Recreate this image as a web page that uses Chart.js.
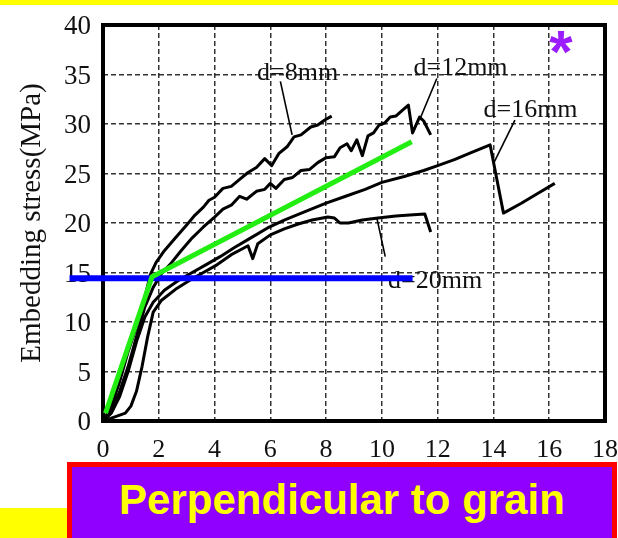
<!DOCTYPE html>
<html><head><meta charset="utf-8">
<script src="https://cdn.jsdelivr.net/npm/chart.js@4.4.1/dist/chart.umd.min.js"></script>
<style>
html,body{margin:0;padding:0;}
body{width:618px;height:538px;position:relative;overflow:hidden;background:#fff;}
#c{position:absolute;left:0;top:0;}
.band{position:absolute;background:#FFFF00;}
#box{position:absolute;left:67px;top:462px;width:550px;height:90px;box-sizing:border-box;border:5px solid #FF0000;background:#8F00FF;}
#boxText{position:absolute;left:67px;top:476px;width:550px;text-align:center;font:bold 42px "Liberation Sans",Arial,sans-serif;color:#FFFF00;line-height:normal;white-space:nowrap;}
</style></head><body>
<div class="band" style="left:0;top:0;width:618px;height:5px"></div>
<div class="band" style="left:0;top:508px;width:67px;height:30px"></div>
<canvas id="c" width="618" height="538"></canvas>
<div id="box"></div>
<div id="boxText">Perpendicular to grain</div>
<script>
// ---- data (x: displacement, y: embedding stress MPa) ----
const xTicks = [0, 2, 4, 6, 8, 10, 12, 14, 16, 18];
const yTicks = [0, 5, 10, 15, 20, 25, 30, 35, 40];
const yTitle = 'Embedding stress(MPa)';

const d8 = [[0,0],[0.3,1.5],[0.6,4],[0.9,7],[1.2,9.5],[1.5,12.5],[1.7,14.8],[1.9,16],[2.2,17.2],[2.6,18.5],[3.0,19.8],[3.3,20.8],[3.6,21.6],[3.8,22.3],[4.0,22.6],[4.3,23.5],[4.6,23.7],[4.9,24.4],[5.2,25.1],[5.5,25.6],[5.8,26.5],[6.05,25.8],[6.3,27.0],[6.6,27.7],[6.85,28.7],[7.1,28.9],[7.45,29.7],[7.7,29.9],[7.95,30.4],[8.2,30.8]];
const d12 = [[0,0],[0.3,1],[0.6,3],[0.9,5.5],[1.2,8.5],[1.5,11.5],[1.8,13.5],[2.1,14.9],[2.4,15.8],[2.8,17.2],[3.2,18.5],[3.6,19.6],[4.0,20.6],[4.3,21.4],[4.6,21.8],[4.9,22.7],[5.15,22.4],[5.5,23.2],[5.8,23.4],[6.0,24.0],[6.2,23.5],[6.5,24.4],[6.8,24.6],[7.1,25.3],[7.4,25.4],[7.7,26.1],[8.0,26.6],[8.3,26.7],[8.5,27.6],[8.75,28.0],[8.9,27.3],[9.1,28.4],[9.3,26.8],[9.5,28.8],[9.7,29.1],[9.9,29.9],[10.1,30.1],[10.3,30.7],[10.5,30.8],[10.7,31.3],[10.95,31.9],[11.1,29.1],[11.35,30.7],[11.5,30.3],[11.75,28.9]];
const d16 = [[0,0],[0.3,0.8],[0.6,2.5],[0.9,5],[1.2,8],[1.5,10.5],[1.8,12],[2.2,13.2],[2.7,14.2],[3.2,15],[3.7,15.8],[4.2,16.6],[4.7,17.5],[5.3,18.5],[5.9,19.5],[6.5,20.3],[7.2,21.1],[8.0,22.0],[8.7,22.7],[9.4,23.4],[10.0,24.1],[10.8,24.7],[11.5,25.3],[12.0,25.8],[12.6,26.4],[13.2,27.1],[13.88,27.9],[14.36,21.0],[15.0,22.0],[15.6,23.0],[16.2,24.0]];
const d20 = [[0,0],[0.4,0.4],[0.8,0.8],[1.0,1.5],[1.2,3],[1.4,5.5],[1.6,8.5],[1.8,11],[2.1,12.2],[2.6,13.3],[3.1,14.2],[3.6,15.0],[4.1,15.8],[4.6,16.8],[5.0,17.4],[5.2,17.7],[5.37,16.4],[5.55,17.9],[6.0,18.8],[6.5,19.4],[7.0,19.9],[7.5,20.3],[8.06,20.6],[8.3,20.5],[8.5,20.0],[8.8,20.0],[9.3,20.3],[9.86,20.5],[10.5,20.7],[11.0,20.8],[11.54,20.9],[11.75,19.1]];
const greenFit = [[0.09,0.78],[1.76,14.58],[11.07,28.2]];
const blueLevel = [[-1.2,14.41],[11.1,14.41]];

// label texts with their anchor (data units) and leader lines
const curveLabels = [
  {text:'d=8mm',  x:6.98,  y:34.4},
  {text:'d=12mm', x:12.82, y:34.95},
  {text:'d=16mm', x:15.33, y:30.7},
  {text:'d=20mm', x:11.91, y:13.4}
];
const leader8  = [[6.36,34.3],[6.78,28.9]];
const leader12 = [[11.97,34.6],[11.35,30.4]];
const leader16 = [[14.77,30.4],[14.0,26.0]];
const leader20 = [[9.82,20.5],[10.12,16.6]];
const markerStar = {text:'*', x:16.42, y:38.2};

const pts = a => a.map(p => ({x:p[0], y:p[1]}));
const SERIF = "'Liberation Serif', 'Times New Roman', serif";

const line = (data, color, width, extra) => Object.assign({
  data: pts(data), showLine:true, borderColor:color, backgroundColor:color,
  borderWidth:width, pointRadius:0, pointHoverRadius:0, tension:0,
  borderJoinStyle:'round', borderCapStyle:'butt', fill:false
}, extra||{});

const deco = {
  id:'deco',
  beforeDatasetsDraw(chart){
    const {ctx, scales:{x,y}} = chart;
    const l = x.getPixelForValue(0), r = x.getPixelForValue(18);
    const t = y.getPixelForValue(40), b = y.getPixelForValue(0);
    ctx.save();
    ctx.strokeStyle = '#000';
    ctx.lineWidth = 4;
    ctx.strokeRect(l, t, r - l, b - t);
    ctx.font = "26px " + SERIF;
    ctx.fillStyle = '#111';
    ctx.textAlign = 'center';
    ctx.textBaseline = 'alphabetic';
    curveLabels.forEach(c => ctx.fillText(c.text, x.getPixelForValue(c.x), y.getPixelForValue(c.y)));
    ctx.restore();
  },
  afterDraw(chart){
    const {ctx, scales:{x,y}} = chart;
    ctx.save();
    ctx.font = "bold 60px 'Liberation Sans', Arial, sans-serif";
    ctx.fillStyle = '#9B1CFF';
    ctx.textAlign = 'center';
    ctx.textBaseline = 'middle';
    ctx.fillText(markerStar.text, x.getPixelForValue(markerStar.x), y.getPixelForValue(markerStar.y) + 13);
    ctx.restore();
  }
};

const gridOpts = {color:'rgba(0,0,0,0.8)', lineWidth:1.5, drawTicks:false, borderDash:[5,3]};

new Chart(document.getElementById('c'), {
  type:'scatter',
  data:{datasets:[
    line(greenFit, '#22EE11', 5, {clip:false}),
    line(blueLevel, '#0000FF', 6, {clip:false}),
    line(d8, '#000', 3),
    line(d12, '#000', 3),
    line(d16, '#000', 3),
    line(d20, '#000', 3),
    line(leader8, '#000', 1.6),
    line(leader12, '#000', 1.6),
    line(leader16, '#000', 1.6),
    line(leader20, '#000', 1.6)
  ]},
  options:{
    responsive:false, animation:false, devicePixelRatio:1,
    layout:{padding:{left:0, right:13, top:25, bottom:0}},
    plugins:{legend:{display:false}, tooltip:{enabled:false}},
    scales:{
      x:{type:'linear', position:'bottom', min:0, max:18,
        afterBuildTicks:s => { s.ticks = xTicks.map(v => ({value:v})); },
        afterFit:s => { s.height = 117; s.paddingLeft = 0; s.paddingRight = 0; },
        grid:gridOpts, border:{display:false, dash:[5,3]},
        ticks:{font:{family:SERIF, size:26}, color:'#111', padding:14, maxRotation:0, autoSkip:false}
      },
      y:{type:'linear', position:'left', min:0, max:40,
        afterBuildTicks:s => { s.ticks = yTicks.map(v => ({value:v})); },
        afterFit:s => { s.width = 103; s.paddingTop = 0; s.paddingBottom = 0; },
        grid:gridOpts, border:{display:false, dash:[5,3]},
        ticks:{font:{family:SERIF, size:27}, color:'#111', padding:12, labelOffset:2, autoSkip:false},
        title:{display:true, text:yTitle, color:'#111', font:{family:SERIF, size:29}, padding:{top:15, bottom:0}}
      }
    }
  },
  plugins:[deco]
});
</script>
</body></html>
